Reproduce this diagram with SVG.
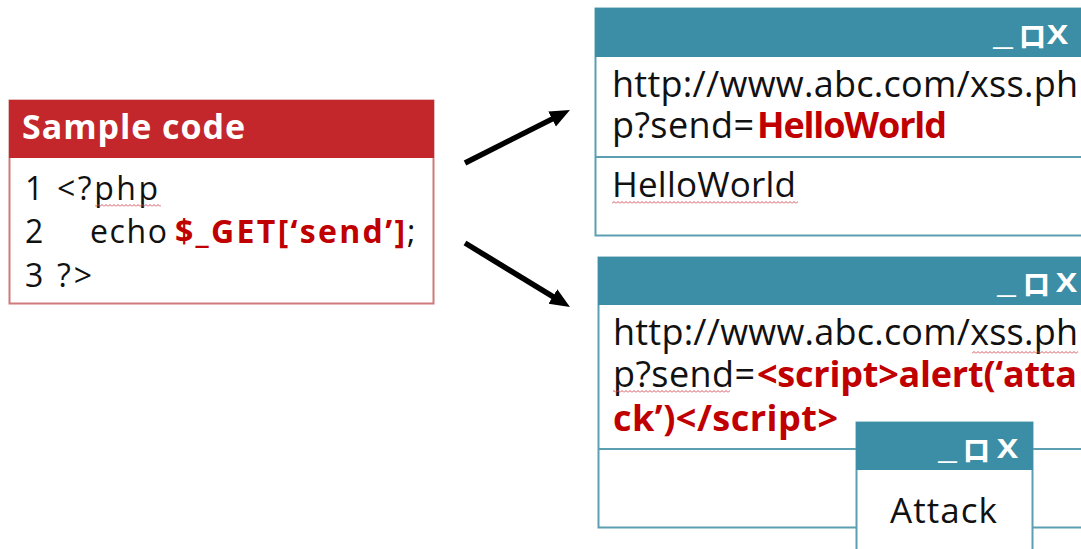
<svg xmlns="http://www.w3.org/2000/svg" width="1081" height="549" viewBox="0 0 1081 549">
  <style>
    .body { font-family: "Open Sans", "Liberation Sans", sans-serif; fill: #111; }
    .code { font-size: 32px; }
    .red { fill: #c00000; font-weight: bold; }
    .title { font-family: "Open Sans", "Liberation Sans", sans-serif; font-weight: bold; fill: #fff; font-size: 34px; }
    .icon { font-family: "Open Sans", "Liberation Sans", sans-serif; font-weight: bold; fill: #fff; font-size: 26px; }
    .cjk { font-family: "Noto Sans CJK SC", sans-serif; font-weight: 900; font-size: 26px; fill: #fff; }
    .win { fill: #fff; stroke: #5d9fb2; stroke-width: 2; }
    .bar { fill: #3b8ea5; }
    .sep { stroke: #5d9fb2; stroke-width: 2; }
    .arrow { stroke: #000; stroke-width: 5.5; fill: none; }
  </style>
  <defs>
    <marker id="head" markerUnits="userSpaceOnUse" markerWidth="22" markerHeight="18" refX="2" refY="8.5" orient="auto">
      <path d="M0,0 L20,8.5 L0,17 z" fill="#000"/>
    </marker>
    <!-- wavy spell-check underline -->
    <pattern id="squiggle" width="4" height="3" patternUnits="userSpaceOnUse">
      <path d="M0,2.5 L2,0.5 L4,2.5" fill="none" stroke="#d0404a" stroke-width="0.9"/>
    </pattern>
  </defs>

  <rect width="1081" height="549" fill="#fff"/>

  <!-- code panel -->
  <g id="sample-code">
    <rect x="9.5" y="100.5" width="424" height="203" fill="#fff" stroke="#cf7a7d" stroke-width="2"/>
    <rect x="9" y="100" width="425" height="58" fill="#c3272b"/>
    <text class="title" x="22" y="139" textLength="223">Sample code</text>
    <text class="body code" x="25" y="200">1</text>
    <text class="body code" x="57" y="200" textLength="101">&lt;?php</text>
    <rect x="95" y="204" width="66" height="3" fill="url(#squiggle)"/>
    <text class="body code" x="25" y="243">2</text>
    <text class="body code" x="90" y="243" textLength="77">echo</text>
    <text class="body code red" x="175" y="243" textLength="230">$_GET[‘send’]</text>
    <text class="body code" x="407" y="243">;</text>
    <text class="body code" x="25" y="287">3</text>
    <text class="body code" x="57" y="287" textLength="35">?&gt;</text>
  </g>

  <!-- browser window: normal input -->
  <g id="window-hello">
    <rect class="win" x="595.5" y="8.5" width="500" height="227"/>
    <rect class="bar" x="595" y="8" width="500" height="49"/>
    <text class="icon" x="993" y="45" textLength="20" lengthAdjust="spacingAndGlyphs">_</text>
    <text class="cjk" x="1019.5" y="46">口</text>
    <text class="icon" x="1047" y="44" textLength="21" lengthAdjust="spacingAndGlyphs">X</text>
    <text class="body" font-size="36" x="612" y="97" textLength="466">http://www.abc.com/xss.ph</text>
    <text class="body" font-size="36" x="612" y="138" textLength="142">p?send=</text>
    <text class="body red" font-size="36" x="757" y="138" textLength="190">HelloWorld</text>
    <line class="sep" x1="596" y1="157" x2="1081" y2="157"/>
    <text class="body" font-size="35" x="612" y="197" textLength="184">HelloWorld</text>
    <rect x="612" y="201" width="186" height="3" fill="url(#squiggle)"/>
  </g>

  <!-- browser window: injected script -->
  <g id="window-attack">
    <rect class="win" x="598.5" y="257.5" width="500" height="270"/>
    <rect class="bar" x="598" y="257" width="500" height="48"/>
    <text class="icon" x="997" y="293" textLength="19" lengthAdjust="spacingAndGlyphs">_</text>
    <text class="cjk" x="1023.5" y="294">口</text>
    <text class="icon" x="1056" y="292" textLength="21" lengthAdjust="spacingAndGlyphs">X</text>
    <text class="body" font-size="36" x="613" y="345" textLength="465">http://www.abc.com/xss.ph</text>
    <rect x="972" y="351" width="106" height="3" fill="url(#squiggle)"/>
    <text class="body" font-size="36" x="613" y="387" textLength="142">p?send=</text>
    <text class="body red" font-size="36" x="757" y="387" textLength="320">&lt;script&gt;alert(‘atta</text>
    <rect x="613" y="390" width="117" height="3" fill="url(#squiggle)"/>
    <text class="body red" font-size="36" x="613" y="431" textLength="225">ck’)&lt;/script&gt;</text>
    <line class="sep" x1="599" y1="449" x2="1081" y2="449"/>
  </g>

  <!-- alert popup -->
  <g id="popup-attack">
    <rect class="win" x="856.5" y="422.5" width="176" height="140"/>
    <rect class="bar" x="856" y="422" width="177" height="48"/>
    <text class="icon" x="938" y="459" textLength="19" lengthAdjust="spacingAndGlyphs">_</text>
    <text class="cjk" x="963.5" y="460">口</text>
    <text class="icon" x="997" y="458" textLength="21" lengthAdjust="spacingAndGlyphs">X</text>
    <text class="body" font-size="35" x="890" y="523" textLength="107">Attack</text>
  </g>

  <!-- connectors -->
  <g id="connectors">
    <line class="arrow" x1="465" y1="163" x2="553.9" y2="118.1" marker-end="url(#head)"/>
    <line class="arrow" x1="465" y1="243" x2="554.6" y2="297.6" marker-end="url(#head)"/>
  </g>
</svg>
